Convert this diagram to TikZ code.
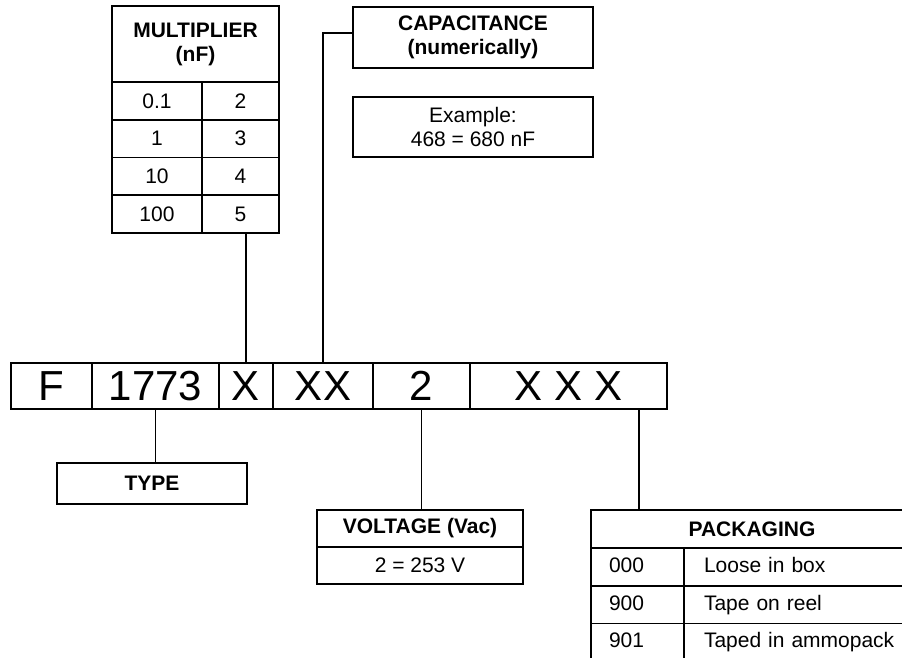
\documentclass[tikz,border=0pt]{standalone}
\usepackage{fontspec}
\setmainfont{Liberation Sans}
\usetikzlibrary{positioning}
\begin{document}
\begin{tikzpicture}[x=1pt,y=-1pt]
		\tikzstyle{cell}=[draw,rectangle,line width=1.8pt,inner sep=0pt,outer sep=0pt,align=center,font=\fontsize{21}{24}\selectfont]
		\tikzstyle{head}=[cell,font=\fontsize{21}{24}\selectfont\bfseries]
		\tikzstyle{digit}=[cell,minimum height=46pt,font=\fontsize{42}{42}\selectfont]
		\tikzstyle{row}=[cell,align=left,text height=15pt,text depth=4pt,minimum height=37.7pt]
		\tikzstyle{wire}=[line width=1.5pt]

		\path[use as bounding box,clip] (0,0) rectangle (902,658);

		% the code itself
		\begin{scope}
			\node[digit,minimum width=81pt,anchor=north west] (letter) at (11,363) {F};
			\node[digit,minimum width=127pt,right=0pt of letter] (series) {1773};
			\node[digit,minimum width=54pt,right=0pt of series] (mult) {X};
			\node[digit,minimum width=100pt,right=0pt of mult] (cap) {XX};
			\node[digit,minimum width=97pt,right=0pt of cap] (volt) {2};
			\node[digit,minimum width=197pt,right=0pt of volt] (pack) {X X X};
		\end{scope}

		% multiplier table
		\begin{scope}
			\node[head,minimum width=167pt,minimum height=76pt,anchor=north west] (multhead) at (112,6) {MULTIPLIER\\(nF)};
			\foreach \a/\b [count=\i] in {0.1/2,1/3,10/4,100/5}{
				\node[cell,minimum width=90pt,minimum height=37.75pt,anchor=north west] (multa\i) at (112,{82+(\i-1)*37.75}) {\a};
				\node[cell,minimum width=77pt,minimum height=37.75pt,right=0pt of multa\i] (multb\i) {\b};
			}
			\draw[wire] (mult.north) -- (mult.north |- multb4.south);
		\end{scope}

		% capacitance
		\begin{scope}
			\node[head,minimum width=240pt,minimum height=61pt,anchor=north west] (caphead) at (353,7) {CAPACITANCE\\(numerically)};
			\node[cell,minimum width=240pt,minimum height=60pt,anchor=north west] (capex) at (353,97) {Example:\\468 = 680 nF};
			\draw[wire] (cap.north) |- ([yshift=4.5pt]caphead.west);
		\end{scope}

		% type
		\begin{scope}
			\node[head,minimum width=190pt,minimum height=41pt,anchor=north west] (typebox) at (57,463) {TYPE};
			\draw[wire] (series.south) -- (series.south |- typebox.north);
		\end{scope}

		% voltage
		\begin{scope}
			\node[head,minimum width=206pt,minimum height=37pt,anchor=north west] (volthead) at (317,510) {VOLTAGE (Vac)};
			\node[cell,minimum width=206pt,minimum height=37pt,below=0pt of volthead] (voltval) {2 = 253 V};
			\draw[wire] (volt.south) -- (volt.south |- volthead.north);
		\end{scope}

		% packaging
		\begin{scope}
			\node[head,minimum width=322pt,minimum height=38pt,anchor=north west] (packhead) at (591,510) {PACKAGING};
			\foreach \a/\b [count=\i] in {000/Loose in box,900/Tape on reel,901/Taped in ammopack}{
				\node[row,inner xsep=18pt,text width=57pt,anchor=north west] (packa\i) at (591,{548+(\i-1)*37.7}) {\a};
				\node[row,inner xsep=20pt,text width=189pt,right=0pt of packa\i] (packb\i) {\mbox{\b}};
			}
			\coordinate (packout) at ([xshift=70.5pt]pack.south);
			\draw[wire] (packout) -- (packout |- packhead.north);
		\end{scope}
	\end{tikzpicture}
\end{document}
